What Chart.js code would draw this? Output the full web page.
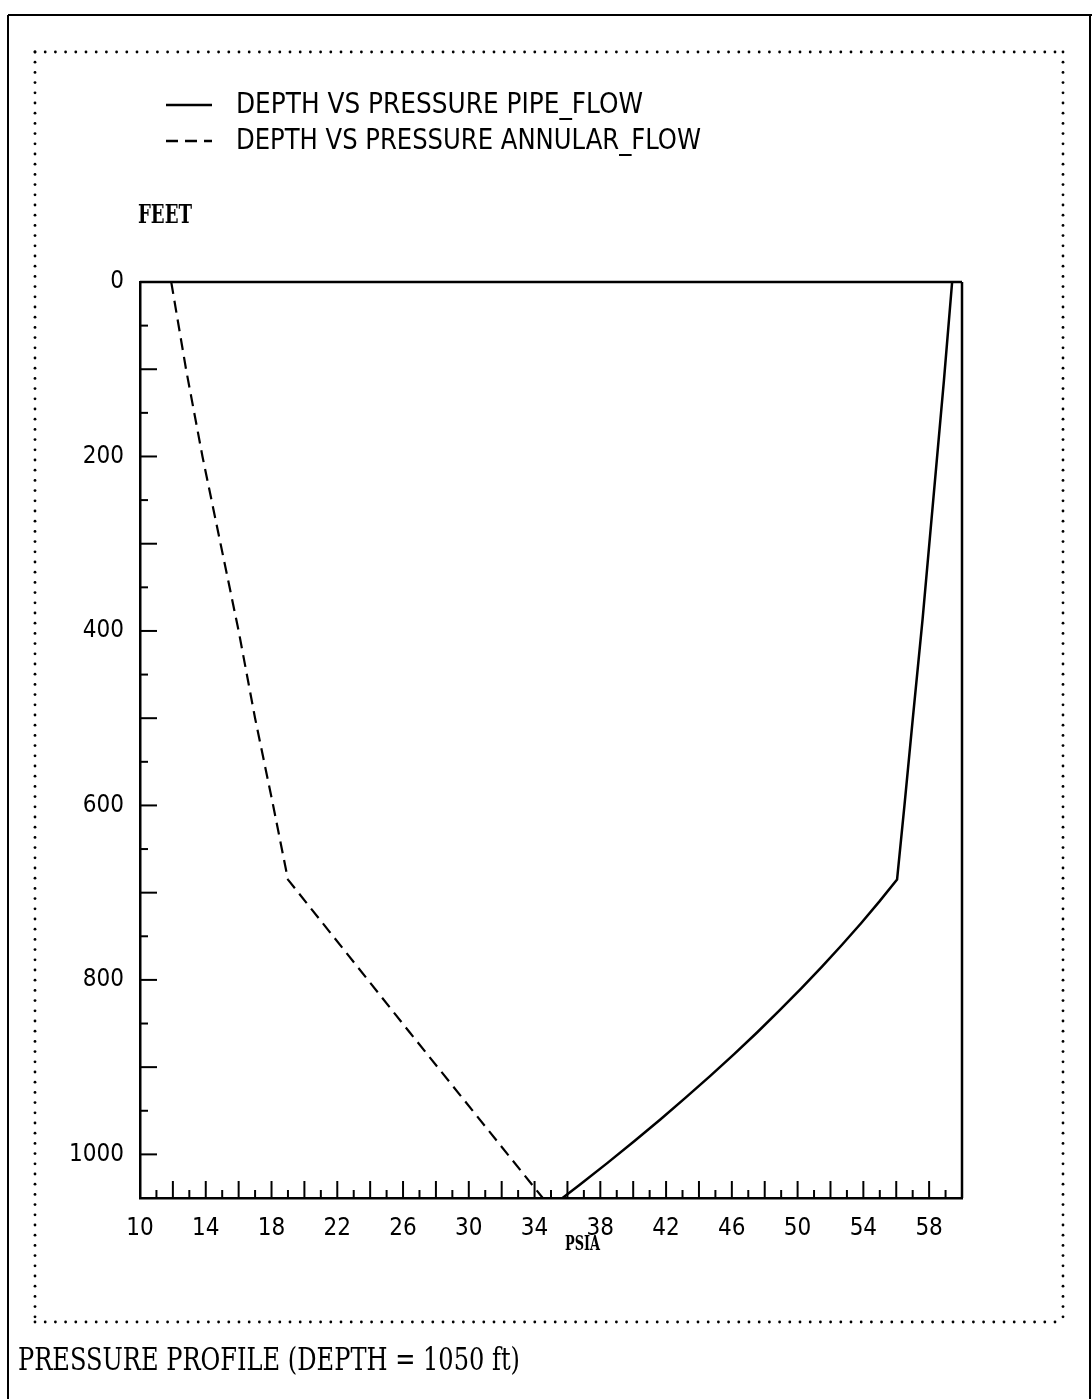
<!DOCTYPE html>
<html>
<head>
<meta charset="utf-8">
<script src="https://cdn.jsdelivr.net/npm/chart.js@4.4.1/dist/chart.umd.min.js"></script>
<style>
  html, body { margin: 0; padding: 0; background: #fff; }
  canvas { display: block; }
</style>
</head>
<body>
<canvas id="profile" width="1092" height="1399"></canvas>
<script>
// Pipe flow: depth (ft) and pressure (psia)
const pipeDepth    = [0, 113, 250, 387, 502, 600, 685, 710, 735, 760, 785, 810, 835, 860, 885,
                      910, 935, 960, 985, 1010, 1035, 1050];
const pipePressure = [59.4, 58.9, 58.25, 57.6, 57.0, 56.5, 56.05, 54.98, 53.86, 52.69, 51.47, 50.21,
                      48.9, 47.55, 46.14, 44.69, 43.19, 41.65, 40.06, 38.42, 36.73, 35.7];

// Annular flow: depth (ft) and pressure (psia)
const annularDepth    = [0, 100, 200, 300, 400, 500, 600, 685, 860, 1050];
const annularPressure = [11.9, 12.8, 13.8, 14.9, 16.0, 17.0, 18.1, 19.0, 26.4, 34.5];

// Axis tick labels
const pressureTicks = [10, 14, 18, 22, 26, 30, 34, 38, 42, 46, 50, 54, 58];
const depthTicks    = [0, 200, 400, 600, 800, 1000];

const seriesNames = ['DEPTH VS PRESSURE PIPE_FLOW', 'DEPTH VS PRESSURE ANNULAR_FLOW'];
const xAxisName = 'PSIA';
const yAxisName = 'FEET';
const chartTitle = 'PRESSURE PROFILE (DEPTH = 1050 ft)';

const SANS = "'Liberation Sans Narrow', 'DejaVu Sans Condensed', 'DejaVu Sans', sans-serif";
const SERIF = "'DejaVu Serif Condensed', 'DejaVu Serif', 'Liberation Serif', serif";

function toPoints(xs, ys) {
  return xs.map((x, i) => ({ x: x, y: ys[i] }));
}

// draw text stretched/squeezed to an exact width
function fitText(ctx, text, x, y, width, font) {
  ctx.save();
  ctx.font = font;
  ctx.textBaseline = 'middle';
  ctx.textAlign = 'left';
  const w = ctx.measureText(text).width;
  ctx.translate(x, y);
  ctx.scale(width / w, 1);
  ctx.fillText(text, 0, 0);
  ctx.restore();
}

function line(ctx, x1, y1, x2, y2) {
  ctx.beginPath();
  ctx.moveTo(x1, y1);
  ctx.lineTo(x2, y2);
  ctx.stroke();
}

const pagePlugin = {
  id: 'page',
  beforeDraw(chart) {
    const ctx = chart.ctx;
    ctx.save();
    ctx.fillStyle = '#fff';
    ctx.fillRect(0, 0, chart.width, chart.height);

    // outer solid frame
    ctx.strokeStyle = '#000';
    ctx.lineWidth = 2;
    line(ctx, 8, 15, 1092, 15);
    line(ctx, 8, 15, 8, 1399);
    line(ctx, 1090, 15, 1090, 1399);

    // inner dotted frame
    ctx.fillStyle = '#000';
    const L = 35, R = 1063, T = 52, B = 1322, step = 10.2;
    const dot = (x, y) => { ctx.beginPath(); ctx.arc(x, y, 1.4, 0, Math.PI * 2); ctx.fill(); };
    for (let x = L; x <= R + 0.5; x += step) { dot(x, T); dot(x, B); }
    for (let y = T; y <= B + 0.5; y += step) { dot(L, y); dot(R, y); }
    ctx.restore();
  },
  afterDraw(chart) {
    const ctx = chart.ctx;
    const a = chart.chartArea;
    const xs = chart.scales.x, ys = chart.scales.y;
    ctx.save();
    ctx.strokeStyle = '#000';
    ctx.fillStyle = '#000';
    ctx.lineCap = 'butt';

    // top and right edges of the plot box
    ctx.lineWidth = 2.5;
    line(ctx, a.left, a.top, a.right, a.top);
    line(ctx, a.right, a.top, a.right, a.bottom);

    // inward tick marks
    ctx.lineWidth = 2;
    for (let v = 11; v < 60; v++) {
      const px = xs.getPixelForValue(v);
      const len = v % 2 === 0 ? 17 : 8;
      line(ctx, px, a.bottom, px, a.bottom - len);
    }
    for (let d = 50; d <= 1050; d += 50) {
      const py = ys.getPixelForValue(d);
      const len = d % 100 === 0 ? 17 : 8;
      line(ctx, a.left, py, a.left + len, py);
    }

    // legend
    const rows = [105, 141];
    const widths = [407, 465];
    chart.data.datasets.forEach((ds, i) => {
      ctx.save();
      ctx.lineWidth = 2.5;
      ctx.setLineDash(ds.borderDash || []);
      line(ctx, 166, rows[i], 212, rows[i]);
      ctx.restore();
      fitText(ctx, ds.label, 236, rows[i], widths[i], '29px ' + SANS);
    });

    // axis names
    fitText(ctx, yAxisName, 138, 216, 54, 'bold 26px ' + SERIF);
    fitText(ctx, xAxisName, 565, 1245, 35, 'bold 21px ' + SERIF);

    // caption
    fitText(ctx, chartTitle, 18, 1362, 502, '31px ' + SERIF);
    ctx.restore();
  }
};

new Chart(document.getElementById('profile'), {
  type: 'scatter',
  data: {
    datasets: [
      {
        label: seriesNames[0],
        data: toPoints(pipePressure, pipeDepth),
        showLine: true,
        borderColor: '#000',
        borderWidth: 2.5,
        pointRadius: 0,
        tension: 0,
        fill: false
      },
      {
        label: seriesNames[1],
        data: toPoints(annularPressure, annularDepth),
        showLine: true,
        borderColor: '#000',
        borderWidth: 2.2,
        borderDash: [12, 7],
        pointRadius: 0,
        tension: 0,
        fill: false
      }
    ]
  },
  options: {
    responsive: false,
    animation: false,
    devicePixelRatio: 1,
    layout: { padding: { left: 0, right: 130, top: 282, bottom: 141 } },
    plugins: { legend: { display: false }, tooltip: { enabled: false }, title: { display: false } },
    scales: {
      x: {
        type: 'linear',
        min: 10,
        max: 60,
        grid: { display: false, drawTicks: false },
        border: { display: true, color: '#000', width: 2.5 },
        afterBuildTicks: s => { s.ticks = pressureTicks.map(v => ({ value: v })); },
        afterFit: s => { s.height = 60; },
        ticks: { color: '#000', padding: 16, maxRotation: 0, autoSkip: false,
                 font: { family: SANS, size: 24 }, callback: v => String(v) }
      },
      y: {
        type: 'linear',
        reverse: true,
        min: 0,
        max: 1050,
        grid: { display: false, drawTicks: false },
        border: { display: true, color: '#000', width: 2.5 },
        afterBuildTicks: s => { s.ticks = depthTicks.map(v => ({ value: v })); },
        afterFit: s => { s.width = 140; },
        ticks: { color: '#000', padding: 16, autoSkip: false,
                 font: { family: SANS, size: 24 }, callback: v => String(v) }
      }
    }
  },
  plugins: [pagePlugin]
});
</script>
</body>
</html>
